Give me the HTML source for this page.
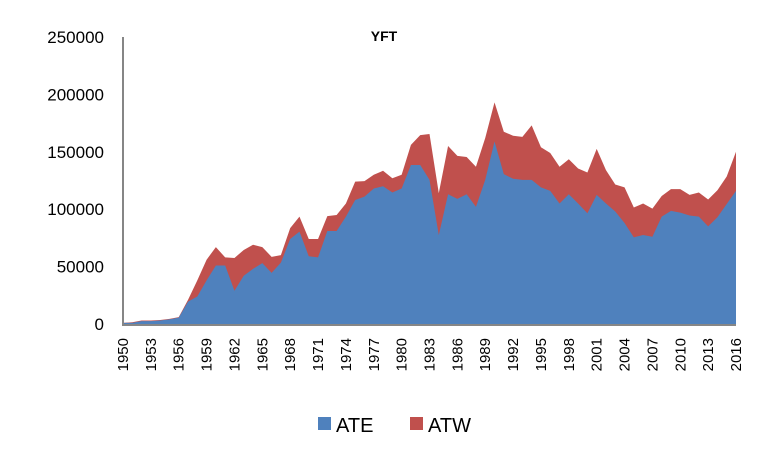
<!DOCTYPE html>
<html><head><meta charset="utf-8"><style>
body{margin:0;background:#fff;width:770px;height:465px;overflow:hidden;font-family:"Liberation Sans",sans-serif}
</style></head><body>
<svg id="chart" width="770" height="465" xmlns="http://www.w3.org/2000/svg">
<text x="384" y="41" text-anchor="middle" font-size="14" font-weight="bold">YFT</text>
<g id="areas"></g><g id="yaxis"></g><g id="xaxis"></g>
<g>
<rect x="318" y="417" width="13" height="13" fill="#4F81BD"/>
<text x="336" y="432" font-size="20" fill="#000">ATE</text>
<rect x="410" y="417" width="13" height="13" fill="#C0504D"/>
<text x="428" y="432" font-size="20" fill="#000">ATW</text>
</g>
</svg>
<script>
const years=[];for(let y=1950;y<=2016;y++)years.push(y);
const ate=[1000,1000,2500,2500,3000,4000,5500,19500,24000,38000,51000,51000,29000,42000,48000,53000,44500,53500,74000,80500,59000,58000,81000,81000,93500,108000,111000,118000,120000,114500,118000,138500,138500,125500,77500,113000,109000,113000,102000,125500,159000,130500,126500,125500,125500,119000,116000,105000,113000,105000,96500,112500,105000,98000,88000,75500,77500,76000,93500,98500,97000,94500,93500,85000,93000,104500,116000];
const atw=[0,500,500,500,500,500,500,1500,14000,18000,16000,7000,28500,22500,21000,14000,14000,6500,9500,13000,15000,16000,13000,14000,11500,16000,13500,12000,13500,12500,12000,17500,26000,40000,36500,42000,37500,32500,35000,36500,34000,37000,37500,37500,47500,35000,33000,32000,30500,30500,35500,40000,29000,23500,31000,26000,27500,24500,18000,19000,20500,18000,21000,23500,23500,24000,34000];
const yTicks=[0,50000,100000,150000,200000,250000];
const x0=123,x1=736,yb=324,yt=37;
const xs=i=>x0+(x1-x0)*i/(years.length-1);
const ys=v=>yb-(yb-yt)*v/250000;
const NS="http://www.w3.org/2000/svg";
function mk(t,a,p){const e=document.createElementNS(NS,t);for(const k in a)e.setAttribute(k,a[k]);p.appendChild(e);return e;}
const areas=document.getElementById('areas');
const totals=ate.map((v,i)=>v+atw[i]);
let d='M'+xs(0)+','+ys(0);years.forEach((y,i)=>d+=' L'+xs(i)+','+ys(totals[i]));d+=' L'+xs(years.length-1)+','+ys(0)+' Z';
const p1=mk('path',{d:d,fill:'#C0504D'},areas);


d='M'+xs(0)+','+ys(0);years.forEach((y,i)=>d+=' L'+xs(i)+','+ys(ate[i]));d+=' L'+xs(years.length-1)+','+ys(0)+' Z';
const p2=mk('path',{d:d,fill:'#4F81BD'},areas);


const ya=document.getElementById('yaxis');
const yl=mk('line',{x1:x0,y1:yt,x2:x0,y2:yb+1,stroke:'#868686','stroke-width':2},ya);


yTicks.forEach(v=>{const t=mk('text',{x:104,y:ys(v)+6,'text-anchor':'end','font-size':17},ya);t.textContent=v;

});
const xa=document.getElementById('xaxis');
const xl=mk('line',{x1:x0-1,y1:yb+1,x2:x1,y2:yb+1,stroke:'#868686','stroke-width':2},xa);


years.forEach((y,i)=>{if((y-1950)%3)return;const x=xs(i)+5;
const t=mk('text',{x:x,y:338,'text-anchor':'end','font-size':15,transform:'rotate(-90 '+x+' 338)'},xa);t.textContent=y;

});
</script>
</body></html>
